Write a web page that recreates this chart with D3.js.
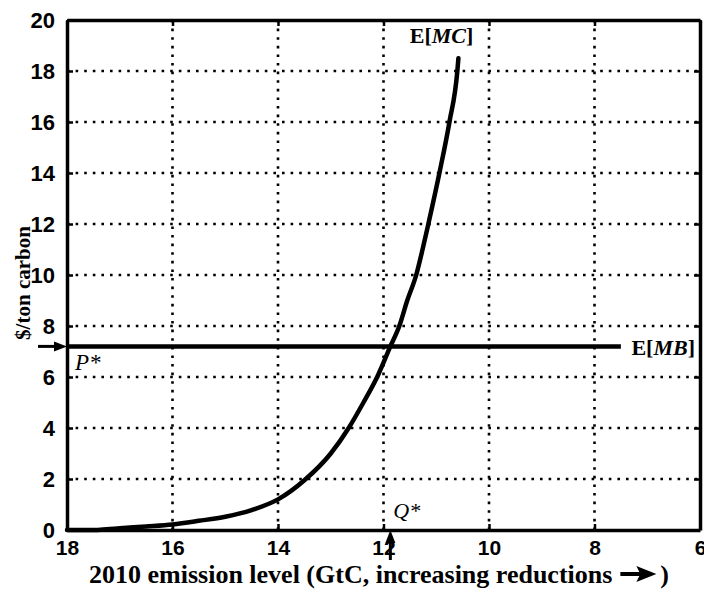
<!DOCTYPE html>
<html>
<head>
<meta charset="utf-8">
<script src="https://cdn.jsdelivr.net/npm/d3@7/dist/d3.min.js"></script>
<style>
  html, body { margin: 0; padding: 0; background: #fff; }
  svg { display: block; }
</style>
</head>
<body>
<svg id="chart" width="704" height="590"></svg>
<script>
// 2010 emission level (GtC) and expected marginal abatement cost ($/ton carbon)
const emission = [18, 17.5, 17.25, 17, 16.5, 16, 15.5, 15, 14.5, 14, 13.5, 13, 12.66, 12.38, 12.12, 11.87, 11.7, 11.55, 11.38, 11.26, 11.15, 10.94, 10.75, 10.6, 10.58];
const marginalCost = [0, 0, 0.03, 0.07, 0.14, 0.22, 0.36, 0.52, 0.78, 1.2, 1.95, 3.0, 4, 5, 6, 7.2, 8, 9, 10, 11, 12, 14, 16, 18, 18.5];

// expected marginal benefit (flat) and its extent
const pStar = 7.2;
const benefitExtent = [18, 7.5];
const qStar = 11.87;

const xTicks = [18, 16, 14, 12, 10, 8, 6];
const yTicks = [0, 2, 4, 6, 8, 10, 12, 14, 16, 18, 20];

const svg = d3.select("#chart");
const x = d3.scaleLinear().domain([18, 6]).range([67, 700]);
const y = d3.scaleLinear().domain([0, 20]).range([530, 20]);

const serif = "'Liberation Serif', 'Times New Roman', serif";
const sans = "'Liberation Sans', Arial, sans-serif";

// dotted grid
const grid = svg.append("g")
  .attr("stroke", "#000")
  .attr("stroke-width", 2.6)
  .attr("stroke-dasharray", "2.6 6");
grid.selectAll("line.v")
  .data(xTicks.filter(d => d !== 18 && d !== 6))
  .join("line")
  .attr("x1", d => x(d)).attr("x2", d => x(d))
  .attr("y1", y(20)).attr("y2", y(0));
grid.selectAll("line.h")
  .data(yTicks.filter(d => d !== 0 && d !== 20))
  .join("line")
  .attr("x1", x(18)).attr("x2", x(6))
  .attr("y1", d => y(d)).attr("y2", d => y(d));

// axes with inward ticks
const xAxisBottom = d3.axisBottom(x).tickValues(xTicks).tickSizeInner(-6).tickSizeOuter(0).tickPadding(10);
const xAxisTop = d3.axisTop(x).tickValues(xTicks).tickSizeInner(-6).tickSizeOuter(0).tickFormat("");
const yAxisLeft = d3.axisLeft(y).tickValues(yTicks).tickSizeInner(-6).tickSizeOuter(0).tickPadding(12);
const yAxisRight = d3.axisRight(y).tickValues(yTicks).tickSizeInner(-6).tickSizeOuter(0).tickFormat("");

function styleAxis(g, size) {
  g.select(".domain").attr("stroke", "#000").attr("stroke-width", 3.5);
  g.selectAll(".tick line").attr("stroke", "#000").attr("stroke-width", 2.5);
  g.selectAll(".tick text")
    .attr("fill", "#000")
    .style("font-family", sans)
    .style("font-weight", "bold")
    .style("font-size", size);
}

svg.append("g").attr("transform", `translate(0,${y(0)})`).call(xAxisBottom).call(styleAxis, "21px")
  .selectAll(".tick text").attr("dy", "0.71em");
svg.append("g").attr("transform", `translate(0,${y(20)})`).call(xAxisTop).call(styleAxis, "21px");
svg.append("g").attr("transform", `translate(${x(18)},0)`).call(yAxisLeft).call(styleAxis, "22px");
svg.append("g").attr("transform", `translate(${x(6)},0)`).call(yAxisRight).call(styleAxis, "22px");

// marginal benefit line
svg.append("line")
  .attr("x1", x(benefitExtent[0])).attr("x2", x(benefitExtent[1]))
  .attr("y1", y(pStar)).attr("y2", y(pStar))
  .attr("stroke", "#000").attr("stroke-width", 4.5);

// marginal cost curve
const mc = emission.map((e, i) => [e, marginalCost[i]]);
svg.append("path")
  .datum(mc)
  .attr("fill", "none")
  .attr("stroke", "#000")
  .attr("stroke-width", 4.5)
  .attr("stroke-linecap", "round")
  .attr("d", d3.line().x(d => x(d[0])).y(d => y(d[1])).curve(d3.curveMonotoneX));

// curve labels
function expLabel(xp, yp, italicPart, anchor) {
  const t = svg.append("text")
    .attr("x", xp).attr("y", yp)
    .attr("text-anchor", anchor)
    .style("font-family", serif)
    .style("font-weight", "bold")
    .style("font-size", "22px")
    .attr("fill", "#000");
  t.append("tspan").text("E[");
  t.append("tspan").style("font-style", "italic").text(italicPart);
  t.append("tspan").text("]");
}
expLabel(x(10.9), 43, "MC", "middle");
expLabel(x(7.3), y(pStar) + 9, "MB", "start");

// P* marker: arrow into the price axis
svg.append("line")
  .attr("x1", 38).attr("x2", x(18) - 8)
  .attr("y1", y(pStar)).attr("y2", y(pStar))
  .attr("stroke", "#000").attr("stroke-width", 3);
svg.append("path")
  .attr("d", `M${x(18)},${y(pStar)} L${x(18) - 13},${y(pStar) - 5} L${x(18) - 13},${y(pStar) + 5} Z`)
  .attr("fill", "#000");
svg.append("text")
  .attr("x", x(18) + 8).attr("y", y(pStar) + 24)
  .style("font-family", serif).style("font-style", "italic")
  .style("font-size", "23px").attr("fill", "#000")
  .text("P*");

// Q* marker: arrow up to the emission axis
svg.append("line")
  .attr("x1", x(qStar)).attr("x2", x(qStar))
  .attr("y1", y(0) + 30).attr("y2", y(0) + 8)
  .attr("stroke", "#000").attr("stroke-width", 3);
svg.append("path")
  .attr("d", `M${x(qStar)},${y(0)} L${x(qStar) - 5},${y(0) + 13} L${x(qStar) + 5},${y(0) + 13} Z`)
  .attr("fill", "#000");
svg.append("text")
  .attr("x", x(qStar) + 3).attr("y", y(0) - 12)
  .style("font-family", serif).style("font-style", "italic")
  .style("font-size", "22px").attr("fill", "#000")
  .text("Q*");

// axis titles
const xTitle = svg.append("text")
  .attr("x", 89).attr("y", 583)
  .style("font-family", serif).style("font-weight", "bold")
  .style("font-size", "26px").attr("fill", "#000")
  .text("2010 emission level (GtC, increasing reductions");
const tw = xTitle.node().getComputedTextLength();
const ax = 89 + tw + 8;
svg.append("line")
  .attr("x1", ax).attr("x2", ax + 22)
  .attr("y1", 574).attr("y2", 574)
  .attr("stroke", "#000").attr("stroke-width", 4);
svg.append("path")
  .attr("d", `M${ax + 36},574 L${ax + 16},566 L${ax + 20},574 L${ax + 16},582 Z`)
  .attr("fill", "#000");
svg.append("text")
  .attr("x", ax + 40).attr("y", 583)
  .style("font-family", serif).style("font-weight", "bold")
  .style("font-size", "26px").attr("fill", "#000")
  .text(")");

svg.append("text")
  .attr("transform", `translate(30,283) rotate(-90)`)
  .attr("text-anchor", "middle")
  .style("font-family", serif).style("font-weight", "bold")
  .style("font-size", "21px").attr("fill", "#000")
  .text("$/ton carbon");
</script>
</body>
</html>
